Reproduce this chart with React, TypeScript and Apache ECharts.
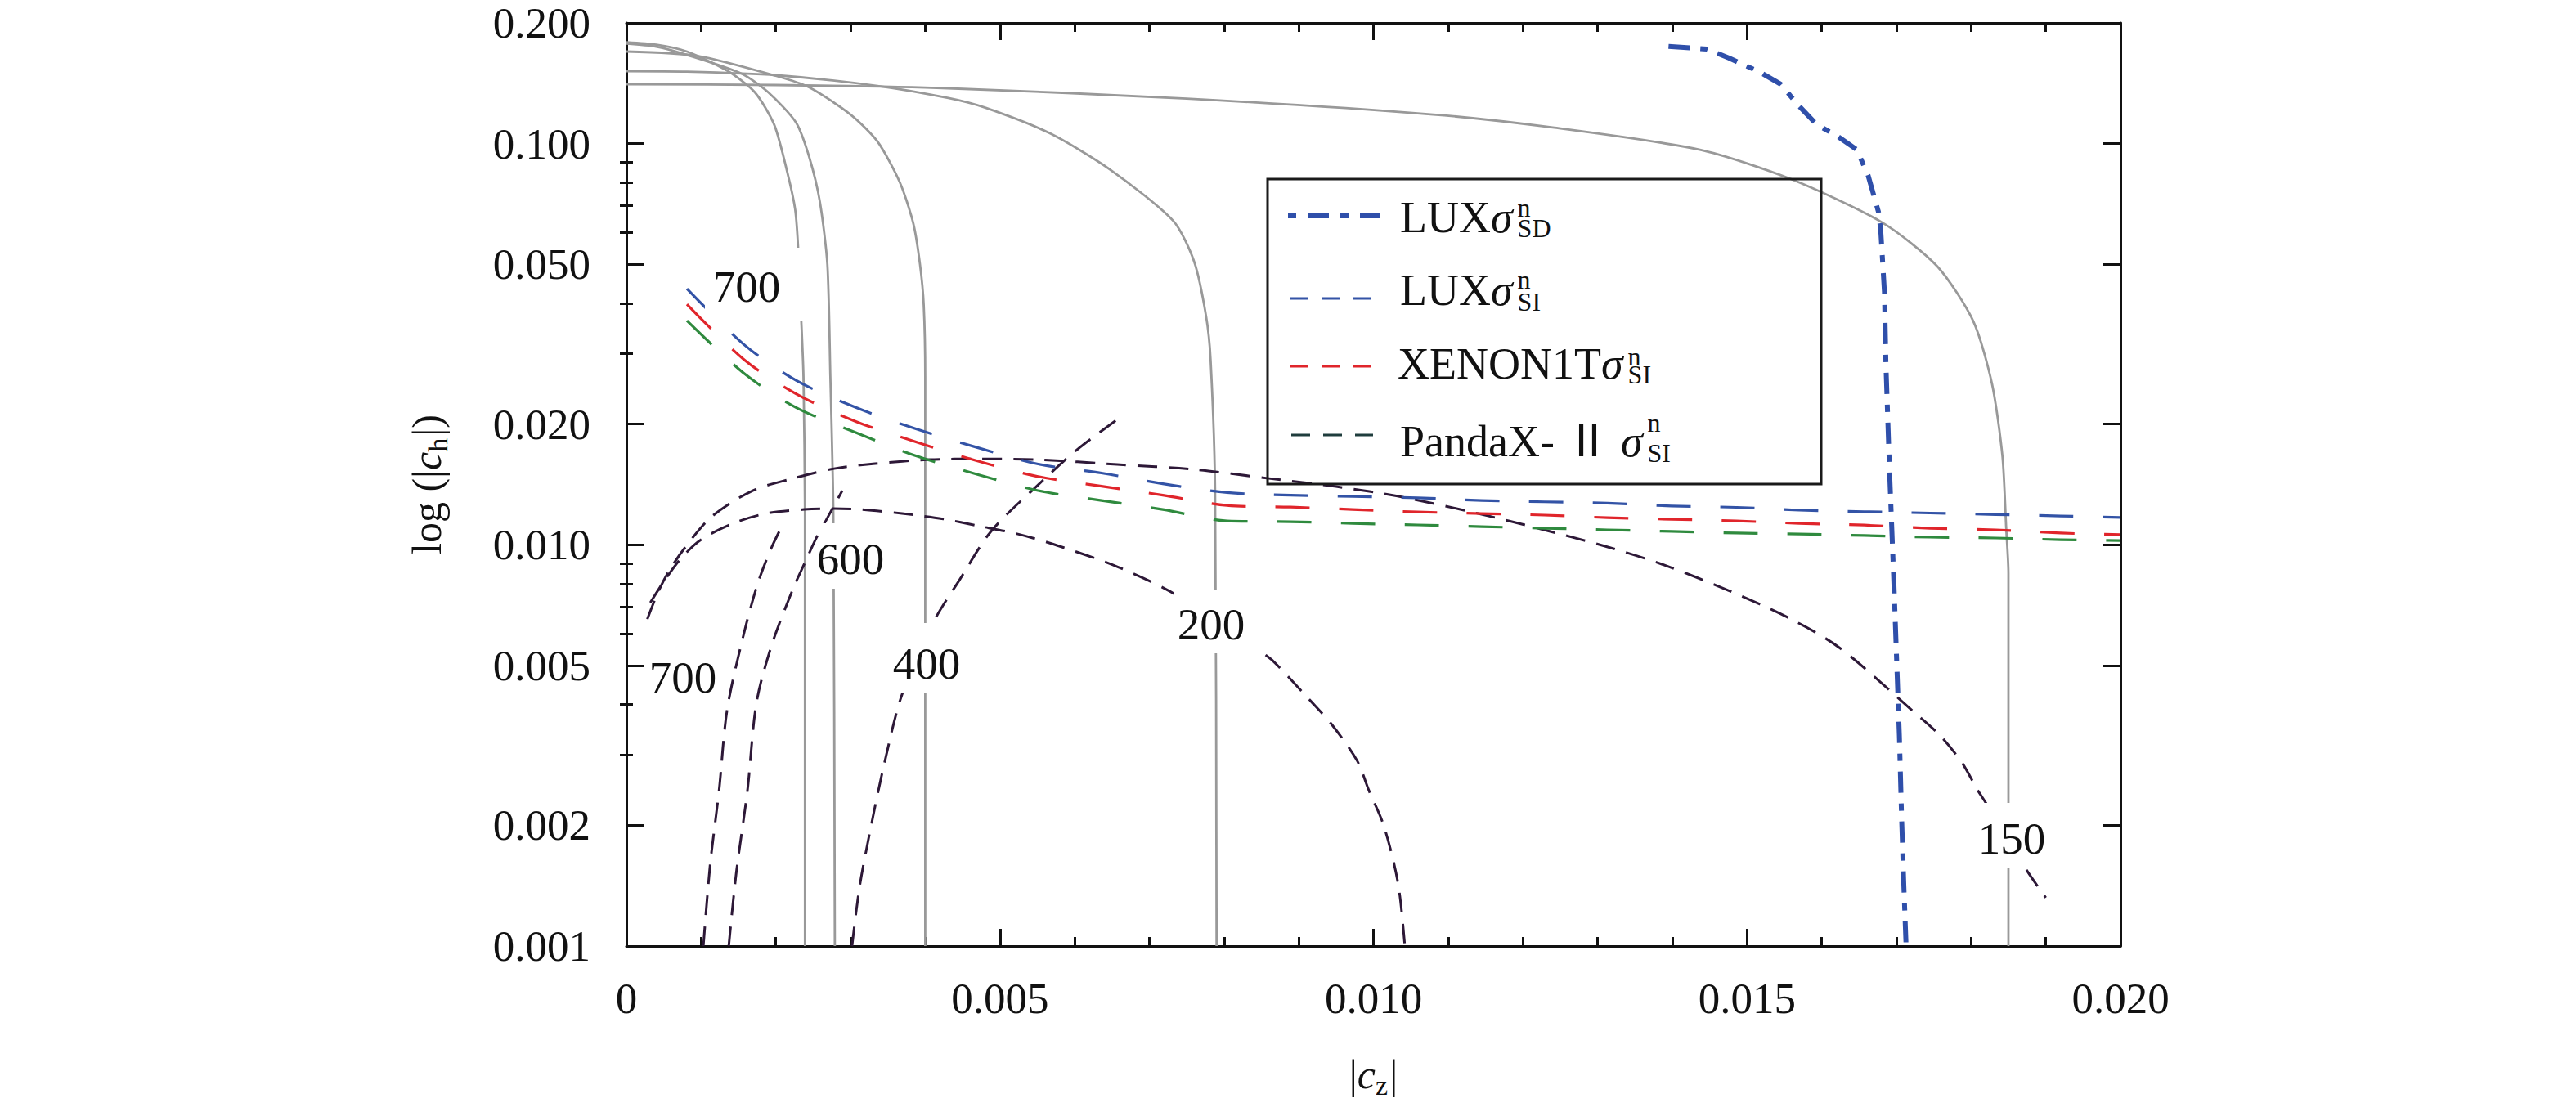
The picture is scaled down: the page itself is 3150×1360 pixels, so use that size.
import React, { useEffect, useRef } from "react";
import * as echarts from "echarts";

const FONT = "'Liberation Serif', 'Times New Roman', Times, serif";
const FONT_CJK = "'Liberation Serif', 'Noto Sans CJK SC', serif";

// ---------- axes ----------
const xMin = 0;
const xMax = 0.02;
const xMajorStep = 0.005;
const yMin = 0.001;
const yMax = 0.2;
const yLabelValues = [0.001, 0.002, 0.005, 0.01, 0.02, 0.05, 0.1, 0.2];
const yMinorValues = [0.003, 0.004, 0.006, 0.007, 0.008, 0.009, 0.03, 0.04, 0.06, 0.07, 0.08, 0.09];

// ---------- grey solid contours [|c_z|, |c_h|] ----------
const gray700 = [[0, 0.179], [0.0004, 0.1765], [0.00081, 0.1697], [0.00136, 0.1516], [0.00172, 0.1342], [0.00198, 0.1113], [0.00216, 0.0839], [0.00226, 0.0683], [0.0023, 0.0545], [0.00234, 0.0366], [0.00237, 0.0263], [0.00239, 0.012], [0.00239, 0.001]];
const gray600 = [[0, 0.1775], [0.0004, 0.1745], [0.00081, 0.1665], [0.00154, 0.1495], [0.0019, 0.1342], [0.00227, 0.1129], [0.00245, 0.0922], [0.00259, 0.0716], [0.00269, 0.05], [0.00273, 0.0263], [0.00277, 0.012], [0.00279, 0.001]];
const gray400 = [[0, 0.1697], [0.00095, 0.1655], [0.00201, 0.1474], [0.00245, 0.138], [0.003, 0.1182], [0.00336, 0.1013], [0.00366, 0.0801], [0.00384, 0.0633], [0.00393, 0.05], [0.00398, 0.0396], [0.004, 0.0263], [0.004, 0.001]];
const gray200 = [[0, 0.1516], [0.00081, 0.1512], [0.00201, 0.1481], [0.00336, 0.1393], [0.00431, 0.1299], [0.00481, 0.1228], [0.00567, 0.1061], [0.00647, 0.0863], [0.00732, 0.0642], [0.0076, 0.0508], [0.00776, 0.0371], [0.00782, 0.0289], [0.00788, 0.0137], [0.0079, 0.001]];
const gray150 = [[0, 0.1406], [0.002, 0.14], [0.0043, 0.1374], [0.0075, 0.1295], [0.0108, 0.1182], [0.0124, 0.1097], [0.01437, 0.0966], [0.01559, 0.0816], [0.01681, 0.0636], [0.01755, 0.0494], [0.01803, 0.0361], [0.01828, 0.0252], [0.01842, 0.0166], [0.01847, 0.011], [0.0185, 0.0085], [0.0185, 0.001]];

// ---------- dark dashed contours ----------
const dash700 = [[0.00103, 0.001], [0.00112, 0.00159], [0.00124, 0.00244], [0.00135, 0.0039], [0.00158, 0.00609], [0.00176, 0.00803], [0.00194, 0.00982], [0.00211, 0.0114]];
const dash600 = [[0.00137, 0.001], [0.00147, 0.00152], [0.00162, 0.00244], [0.00174, 0.00403], [0.00194, 0.00559], [0.00223, 0.00777], [0.00238, 0.00895], [0.00253, 0.0103], [0.00265, 0.01131], [0.00289, 0.01365]];
const dash400 = [[0.00302, 0.001], [0.00312, 0.0014], [0.00327, 0.00197], [0.00346, 0.00289], [0.00369, 0.00424], [0.00412, 0.00647], [0.00446, 0.00818], [0.00488, 0.0108], [0.00551, 0.0141], [0.00603, 0.01726], [0.00657, 0.02053]];
const dash200 = [[0.00032, 0.00718], [0.00051, 0.00815], [0.00073, 0.00925], [0.001, 0.0103], [0.00143, 0.01131], [0.00187, 0.01197], [0.00238, 0.01225], [0.00276, 0.01231], [0.00314, 0.01225], [0.00369, 0.01197], [0.00424, 0.0116], [0.00471, 0.01115], [0.00524, 0.01064], [0.00577, 0.00996], [0.00657, 0.00882], [0.00737, 0.00748], [0.00857, 0.00529], [0.00871, 0.00502], [0.00916, 0.00408], [0.00945, 0.00355], [0.00978, 0.0029], [0.00994, 0.00244], [0.01014, 0.00199], [0.01033, 0.00143], [0.01042, 0.001]];
const dash150 = [[0.00028, 0.00653], [0.00041, 0.00752], [0.00056, 0.00854], [0.00078, 0.00982], [0.00114, 0.01175], [0.00169, 0.01365], [0.00223, 0.01464], [0.00278, 0.01549], [0.00333, 0.01594], [0.00406, 0.01631], [0.00471, 0.01638], [0.00551, 0.01631], [0.00657, 0.01586], [0.0076, 0.01542], [0.0086, 0.01464], [0.0095, 0.01397], [0.01039, 0.01315], [0.0114, 0.01197], [0.01224, 0.01095], [0.01307, 0.00996], [0.01386, 0.00895], [0.01475, 0.0077], [0.01559, 0.00653], [0.01625, 0.00552], [0.01723, 0.00384], [0.01759, 0.00334], [0.01788, 0.00286], [0.01808, 0.00246], [0.0182, 0.00227], [0.01873, 0.00156], [0.019, 0.00132]];

// ---------- experimental limits ----------
const siX = [0.00081, 0.00158, 0.00227, 0.00307, 0.00386, 0.00469, 0.00551, 0.00636, 0.00718, 0.00804, 0.00889, 0.00972, 0.01059, 0.01145, 0.01229, 0.01313, 0.01399, 0.01486, 0.0157, 0.01657, 0.01745, 0.01833, 0.0192, 0.02];
const luxSI = [0.0435, 0.0315, 0.0257, 0.022, 0.0195, 0.0175, 0.0159, 0.0151, 0.0142, 0.0135, 0.0133, 0.0132, 0.0131, 0.0129, 0.0128, 0.0127, 0.0125, 0.0124, 0.0122, 0.0121, 0.012, 0.0119, 0.0118, 0.0117];
const xenonSI = [0.0398, 0.0289, 0.0238, 0.0203, 0.0181, 0.0162, 0.0148, 0.014, 0.0133, 0.01254, 0.01242, 0.01225, 0.01208, 0.01197, 0.01186, 0.01169, 0.01158, 0.01147, 0.01131, 0.0112, 0.011, 0.0109, 0.0107, 0.0106];
const pandaSI = [0.0362, 0.0267, 0.022, 0.01905, 0.0167, 0.015, 0.01365, 0.0129, 0.01225, 0.01147, 0.01142, 0.01131, 0.01121, 0.0111, 0.011, 0.0109, 0.0108, 0.0107, 0.01064, 0.01055, 0.01045, 0.0104, 0.0103, 0.01025];
const luxSDx = [0.01395, 0.01446, 0.01476, 0.01519, 0.01545, 0.01569, 0.01593, 0.01622, 0.01647, 0.01662, 0.01676, 0.01679, 0.01684, 0.01686, 0.01691, 0.01696, 0.01704, 0.01707, 0.0171, 0.01713];
const luxSDy = [0.1748, 0.1721, 0.1635, 0.1502, 0.1407, 0.1245, 0.1118, 0.1041, 0.0966, 0.0835, 0.0676, 0.061, 0.0427, 0.0281, 0.015, 0.0087, 0.00334, 0.00209, 0.00141, 0.001];

// ---------- contour labels ----------
const contourLabelText = ["700", "600", "400", "200", "150", "700"];
const contourLabelX = [0.001609, 0.003, 0.004018, 0.007827, 0.018544, 0.000755];
const contourLabelY = [0.04393, 0.009246, 0.00507, 0.00635, 0.001857, 0.00468];

// ---------- legend ----------
const legendNames = ["LUX", "LUX", "XENON1T", "PandaX- \u2161 "];
const legendSups = ["n", "n", "n", "n"];
const legendSubs = ["SD", "SI", "SI", "SI"];

// styles (pixel layout)
const labelMask = [[51, 77, 48, 41], [37, 45, 43, 37], [43, 45, 49, 37], [45, 66, 41, 36], [42, 45, 43, 37], [40, 42, 23, 24]];
const legendBox = { x: 1550, y: 219, w: 677, h: 373 };
const rowSampleY = [264, 365, 448, 532];
const rowBaseline = [284, 373, 463, 558];
const supBaseline = [265, 353, 447, 528];
const subBaseline = [290, 380, 469, 565];
const sampleX = [[1575, 1688], [1577, 1677], [1577, 1677], [1579, 1679]];
const textX = [1712, 1712, 1709, 1712];
const sampleColor = ["#2f4faa", "#3353a6", "#e0252b", "#1f3d3d"];
const sampleWidth = [6, 3, 3, 3];
const sampleDash = [[10, 14, 26, 14], [23, 16], [23, 16], [23, 16]];

const GRAY = "#999999";
const DARK = "#2d1837";
const L10 = (v: number) => Math.log10(v);

function toData(pts: number[][]) {
  return pts.map(([x, y]) => [x, L10(y)]);
}

function lineSeries(name: string, data: number[][], color: string, width: number, type: any, smooth: number | boolean, z: number) {
  return {
    type: "line",
    name,
    data,
    showSymbol: false,
    symbol: "none",
    smooth,
    silent: true,
    z,
    lineStyle: { color, width, type, cap: "butt", join: "round" },
  };
}

function buildOption() {
  const axisLineStyle = { color: "#111", width: 3 };
  const xCommon = {
    type: "value",
    min: xMin,
    max: xMax,
    interval: xMajorStep,
    axisLine: { show: true, onZero: false, lineStyle: axisLineStyle },
    axisTick: { show: true, inside: true, length: 21, lineStyle: { color: "#111", width: 3 } },
    minorTick: { show: true, splitNumber: 5, length: 11, lineStyle: { color: "#111", width: 3 } },
    splitLine: { show: false },
    minorSplitLine: { show: false },
  };
  const yCommon = {
    type: "value",
    min: L10(yMin),
    max: L10(yMax),
    splitLine: { show: false },
  };
  const majorY = yLabelValues.map(L10);
  const minorY = yMinorValues.map(L10);

  const nameRich = {
    n: { fontFamily: FONT, fontSize: 50, color: "#111", verticalAlign: "top", lineHeight: 50 },
    i: { fontFamily: FONT, fontSize: 50, fontStyle: "italic", color: "#111", verticalAlign: "top", lineHeight: 50 },
    s: { fontFamily: FONT, fontSize: 34, color: "#111", verticalAlign: "top", padding: [21, 2, 0, 0] },
  };

  return {
    animation: false,
    backgroundColor: "#ffffff",
    textStyle: { fontFamily: FONT },
    grid: { left: 766, top: 28, width: 1827, height: 1129, containLabel: false, outerBoundsMode: "none" },
    xAxis: [
      {
        ...xCommon,
        position: "bottom",
        axisLabel: {
          margin: 37,
          fontFamily: FONT,
          fontSize: 53,
          color: "#111",
          formatter: (v: number) => (v === 0 ? "0" : v.toFixed(3)),
        },
        name: "{n||}{i|c}{s|z}{n||}",
        nameLocation: "middle",
        nameGap: 132,
        nameTextStyle: { fontFamily: FONT, fontSize: 50, color: "#111", rich: nameRich },
      },
      { ...xCommon, position: "top", axisLabel: { show: false } },
    ],
    yAxis: [
      {
        ...yCommon,
        position: "left",
        axisLine: { show: true, onZero: false, lineStyle: axisLineStyle },
        axisTick: { show: true, inside: true, length: 22, customValues: majorY, lineStyle: { color: "#111", width: 3 } },
        axisLabel: {
          customValues: majorY,
          margin: 44,
          padding: [9, 0, 0, 0],
          fontFamily: FONT,
          fontSize: 53,
          color: "#111",
          formatter: (v: number) => Math.pow(10, v).toFixed(3),
        },
        name: "{n|log (|}{i|c}{s|h}{n||)}",
        nameLocation: "middle",
        nameGap: 214,
        nameRotate: 90,
        nameTextStyle: { fontFamily: FONT, fontSize: 50, color: "#111", rich: nameRich },
      },
      {
        ...yCommon,
        position: "right",
        axisLine: { show: true, onZero: false, lineStyle: axisLineStyle },
        axisTick: { show: true, inside: true, length: 22, customValues: majorY, lineStyle: { color: "#111", width: 3 } },
        axisLabel: { show: false },
      },
      {
        ...yCommon,
        position: "left",
        axisLine: { show: false },
        axisTick: { show: true, inside: true, length: 8, customValues: minorY, lineStyle: { color: "#111", width: 3 } },
        axisLabel: { show: false },
      },
      {
        ...yCommon,
        position: "right",
        axisLine: { show: false },
        axisTick: { show: true, inside: true, length: 8, customValues: minorY, lineStyle: { color: "#111", width: 3 } },
        axisLabel: { show: false },
      },
    ],
    series: [
      lineSeries("c700", toData(gray700), GRAY, 2.8, "solid", 0.25, 2),
      lineSeries("c600", toData(gray600), GRAY, 2.8, "solid", 0.25, 2),
      lineSeries("c400", toData(gray400), GRAY, 2.8, "solid", 0.25, 2),
      lineSeries("c200", toData(gray200), GRAY, 2.8, "solid", 0.25, 2),
      lineSeries("c150", toData(gray150), GRAY, 2.8, "solid", 0.25, 2),
      lineSeries("d700", toData(dash700), DARK, 3, [24, 14], 0.3, 3),
      lineSeries("d600", toData(dash600), DARK, 3, [24, 14], 0.3, 3),
      lineSeries("d400", toData(dash400), DARK, 3, [24, 14], 0.3, 3),
      lineSeries("d200", toData(dash200), DARK, 3, [24, 14], 0.3, 3),
      lineSeries("d150", toData(dash150), DARK, 3, [24, 14], 0.3, 3),
      lineSeries("LUX SI", siX.map((x, i) => [x, L10(luxSI[i])]), "#3353a6", 3.2, [42, 36], 0.3, 4),
      lineSeries("XENON1T SI", siX.map((x, i) => [x, L10(xenonSI[i])]), "#e0252b", 3.2, [42, 36], 0.3, 4),
      lineSeries("PandaX-II SI", siX.map((x, i) => [x, L10(pandaSI[i])]), "#2f8a3e", 3.2, [42, 36], 0.3, 4),
      lineSeries("LUX SD", luxSDx.map((x, i) => [x, L10(luxSDy[i])]), "#2f4faa", 6, [26, 13, 9, 13], false, 5),
    ],
  };
}

function measure(text: string, font: string) {
  const c = document.createElement("canvas").getContext("2d");
  if (!c) return text.length * 27;
  c.font = font;
  return c.measureText(text).width;
}

export default function App() {
  const ref = useRef<HTMLDivElement>(null);
  useEffect(() => {
    const el = ref.current;
    if (!el) return;
    const chart = echarts.init(el, null, { renderer: "svg" });
    chart.setOption(buildOption() as any);

    const g: any[] = [];
    // contour labels with white masks
    contourLabelText.forEach((t, i) => {
      const p = chart.convertToPixel({ seriesIndex: 0 } as any, [contourLabelX[i], L10(contourLabelY[i])]) as number[];
      const [l, r, tp, b] = labelMask[i];
      g.push({ type: "rect", z: 90, silent: true, shape: { x: p[0] - l, y: p[1] - tp, width: l + r, height: tp + b }, style: { fill: "#ffffff" } });
      g.push({ type: "text", z: 91, silent: true, x: p[0], y: p[1], style: { text: t, fontFamily: FONT, fontSize: 55, fill: "#111", align: "center", verticalAlign: "middle" } });
    });

    // legend
    g.push({ type: "rect", z: 95, silent: true, shape: { x: legendBox.x, y: legendBox.y, width: legendBox.w, height: legendBox.h }, style: { fill: "none", stroke: "#1a1a1a", lineWidth: 3 } });
    legendNames.forEach((name, i) => {
      g.push({
        type: "line", z: 96, silent: true,
        shape: { x1: sampleX[i][0], y1: rowSampleY[i], x2: sampleX[i][1], y2: rowSampleY[i] },
        style: { stroke: sampleColor[i], lineWidth: sampleWidth[i], lineDash: sampleDash[i] },
      });
      const fam = i === 3 ? FONT_CJK : FONT;
      const wName = measure(name, `54px ${fam}`);
      const wSig = measure("\u03c3", `italic 54px ${FONT}`);
      // name + italic sigma as one rich text
      g.push({
        type: "text", z: 96, silent: true, x: textX[i], y: rowBaseline[i] - 18.2,
        style: {
          text: "{a|" + name + "}{b|\u03c3}",
          fill: "#111", align: "left", verticalAlign: "middle",
          rich: {
            a: { fontFamily: fam, fontSize: 54, fill: "#111" },
            b: { fontFamily: FONT, fontSize: 54, fontStyle: "italic", fill: "#111" },
          },
        },
      });
      // superscript and subscript stacked as one two-line text
      const lh = subBaseline[i] - supBaseline[i];
      const supCenter = supBaseline[i] - 10.8;
      g.push({
        type: "text", z: 96, silent: true,
        x: textX[i] + wName + wSig + 6, y: supCenter - lh / 2,
        style: { text: legendSups[i] + "\n" + legendSubs[i], fontFamily: FONT, fontSize: 32, lineHeight: lh, fill: "#111", align: "left", verticalAlign: "top" },
      });
    });

    chart.setOption({ graphic: g } as any);
    return () => chart.dispose();
  }, []);
  return <div ref={ref} style={{ position: "fixed", left: 0, top: 0, width: 3150, height: 1360, background: "#ffffff" }} />;
}
